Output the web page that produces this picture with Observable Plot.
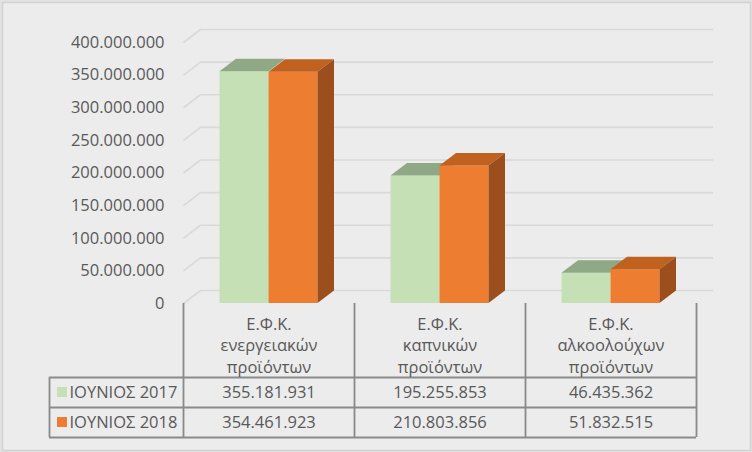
<!DOCTYPE html>
<html>
<head>
<meta charset="utf-8">
<script src="https://cdn.jsdelivr.net/npm/d3@7"></script>
<script src="https://cdn.jsdelivr.net/npm/@observablehq/plot@0.6"></script>
<style>
  html, body { margin: 0; padding: 0; background: #e2e2e2; }
  #chart svg { display: block; }
</style>
</head>
<body>
<div id="chart"></div>
<script>
// ---- data ----
const categories = ["Ε.Φ.Κ.\nενεργειακών\nπροϊόντων", "Ε.Φ.Κ.\nκαπνικών\nπροϊόντων", "Ε.Φ.Κ.\nαλκοολούχων\nπροϊόντων"];
const seriesNames = ["ΙΟΥΝΙΟΣ 2017", "ΙΟΥΝΙΟΣ 2018"];
const values2017 = [355181931, 195255853, 46435362];
const values2018 = [354461923, 210803856, 51832515];
const yTicks = [0, 50000000, 100000000, 150000000, 200000000, 250000000, 300000000, 350000000, 400000000];

// ---- styling / layout ----
const frontColors = ["#c5e0b4", "#ed7d31"];
const topColors = ["#8fa986", "#c0611f"];
const sideColors = ["#9c4f1c", "#9c4f1c"];
const textColor = "#595959";

const X0 = 183, X1 = 696, Y0 = 303, Y1 = 42;
const pxX = 3 / (X1 - X0);          // x units per pixel
const pxY = 400e6 / (Y0 - Y1);      // y units per pixel
const wallDX = 17 * pxX, wallDY = 13 * pxY;
const barDX = 16.5 * pxX, barDY = 12.5 * pxY;
const barW = 49 * pxX;

const loc = d3.formatLocale({decimal: ",", thousands: ".", grouping: [3], currency: ["", "€"]});
const fmt = loc.format(",d");

const allSeries = [values2017, values2018];
const fronts = [], tops = [], sides = [];
allSeries.forEach((vals, s) => {
  vals.forEach((v, i) => {
    const c = i + 0.5;
    const xl = s === 0 ? c - barW : c;
    const xr = s === 0 ? c : c + barW;
    const key = s + "-" + i;
    fronts.push({xl, xr, v, s, order: i * 2 + s});
    tops.push({x1: xl, y1: v, x2: xl + barDX, y2: v + barDY, z: key, s, order: i * 2 + s});
    tops.push({x1: xr, y1: v, x2: xr + barDX, y2: v + barDY, z: key, s, order: i * 2 + s});
    sides.push({x1: xr, y1: 0, x2: xr + barDX, y2: barDY, z: key, s, order: i * 2 + s});
    sides.push({x1: xr, y1: v, x2: xr + barDX, y2: v + barDY, z: key, s, order: i * 2 + s});
  });
});

// build bar marks in painter's order: per group, series 0 then series 1
const barMarks = [];
for (let i = 0; i < 3; i++) {
  for (let s = 0; s < 2; s++) {
    const ord = i * 2 + s;
    barMarks.push(Plot.rect(fronts.filter(d => d.order === ord), {x1: "xl", x2: "xr", y1: 0, y2: "v", fill: frontColors[s]}));
    barMarks.push(Plot.area(tops.filter(d => d.order === ord), {x1: "x1", y1: "y1", x2: "x2", y2: "y2", z: "z", fill: topColors[s]}));
    if (s === 1) {
      barMarks.push(Plot.area(sides.filter(d => d.order === ord), {x1: "x1", y1: "y1", x2: "x2", y2: "y2", z: "z", fill: sideColors[s]}));
    }
  }
}

const tableStroke = "#8a8a8a";
const chart = Plot.plot({
  width: 752,
  height: 452,
  margin: 0,
  x: {type: "linear", domain: [0, 3], range: [X0, X1], axis: null},
  y: {type: "linear", domain: [0, 400e6], range: [Y0, Y1], axis: null},
  style: {fontFamily: "'Open Sans', sans-serif", fontSize: "16.5px", background: "transparent", color: textColor},
  marks: [
    Plot.frame({inset: 2, fill: "#ececec", stroke: "#d2d2d2", strokeWidth: 1.5}),
    // back wall gridlines
    Plot.ruleY(yTicks, {y: d => d + wallDY, x1: wallDX, x2: 3 + wallDX, stroke: "#d9d9d9", strokeWidth: 1.6}),
    // side wall slant lines
    Plot.link(yTicks, {x1: 0, y1: d => d, x2: wallDX, y2: d => d + wallDY, stroke: "#d9d9d9", strokeWidth: 1.6}),
    // y tick labels
    Plot.text(yTicks, {x: 0, y: d => d, text: d => fmt(d), textAnchor: "end", dx: -19, fill: textColor}),
    ...barMarks,
    // data table lines
    Plot.ruleX([0, 1, 2, 3], {y1: 0, y2: -134 * pxY, stroke: tableStroke, strokeWidth: 1.8}),
    Plot.ruleY([-74 * pxY, -104 * pxY, -134 * pxY], {x1: -134 * pxX, x2: 3, stroke: tableStroke, strokeWidth: 1.8}),
    Plot.ruleX([-134 * pxX], {y1: -74 * pxY, y2: -134 * pxY, stroke: tableStroke, strokeWidth: 1.8}),
    // category labels
    Plot.text(categories, {x: (d, i) => i + 0.5, y: 0, dy: 41, text: d => d, lineHeight: 1.3, fill: textColor}),
    // table values
    Plot.text(values2017, {x: (d, i) => i + 0.5, y: -89 * pxY, text: d => fmt(d), fill: textColor}),
    Plot.text(values2018, {x: (d, i) => i + 0.5, y: -119 * pxY, text: d => fmt(d), fill: textColor}),
    // legend keys + names
    Plot.rect(seriesNames, {x1: -126 * pxX, x2: -116 * pxX, y1: (d, i) => (-84 - 30 * i) * pxY, y2: (d, i) => (-94 - 30 * i) * pxY, fill: (d, i) => frontColors[i]}),
    Plot.text(seriesNames, {x: -114 * pxX, y: (d, i) => (-89 - 30 * i) * pxY, text: d => d, textAnchor: "start", fill: textColor})
  ]
});
document.getElementById("chart").appendChild(chart);
</script>
</body>
</html>
